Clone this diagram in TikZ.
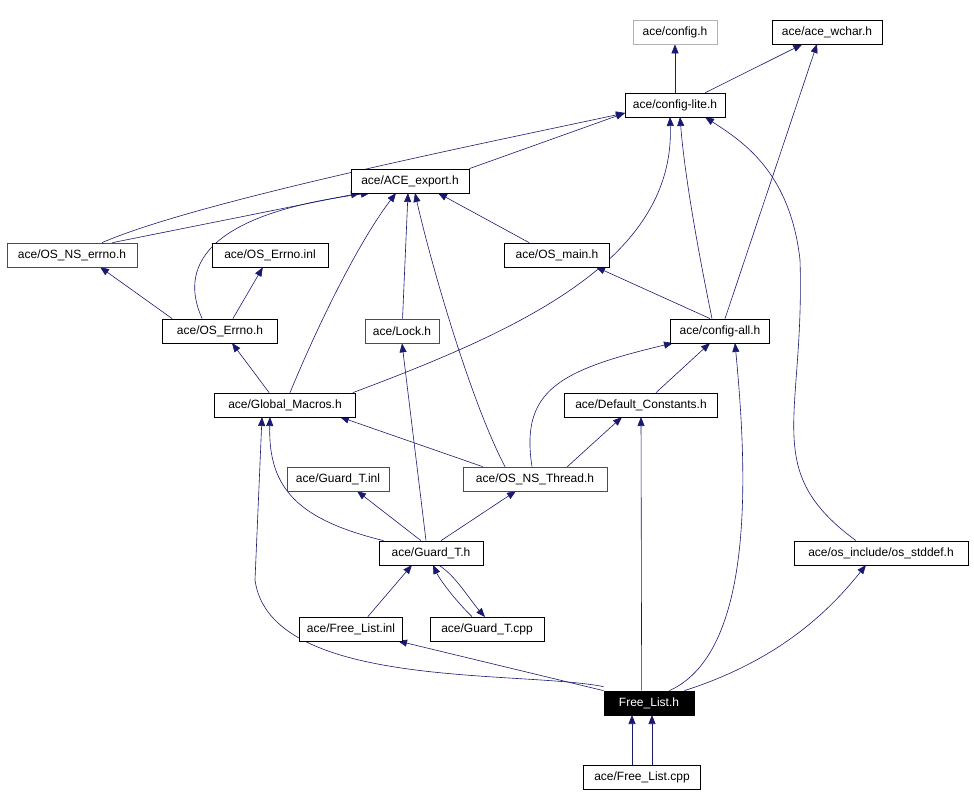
\documentclass[tikz,border=0pt]{standalone}
\usepackage{fontspec}
\setmainfont{Liberation Sans}
\usetikzlibrary{arrows.meta}
\definecolor{edge}{HTML}{191970}
\pgfdeclarelayer{bg}
\pgfsetlayers{bg,main}
\begin{document}
\begin{tikzpicture}[x=1pt,y=-1pt,
  box/.style={draw=black,fill=white,minimum height=24pt,inner xsep=2pt,inner ysep=0pt,font=\fontsize{12pt}{13pt}\selectfont,line width=0.7pt},
  redbox/.style={box,draw=red},
  greybox/.style={box,draw=gray!60},
  e/.style={draw=edge,line width=0.6pt,-{Triangle[length=9pt,width=7pt,fill=edge]}}]
\useasboundingbox (0,0) rectangle (974,808);
\node[greybox,minimum width=84pt] (cfg) at (675,32) {ace/config.h};
\node[box,minimum width=110pt] (wch) at (827,32) {ace/ace\_wchar.h};
\node[box,minimum width=100pt] (cl) at (675,105) {ace/config-lite.h};
\node[box,minimum width=118pt] (exp) at (410,181) {ace/ACE\_export.h};
\node[redbox,minimum width=130pt] (nse) at (72,255) {ace/OS\_NS\_errno.h};
\node[box,minimum width=116pt] (einl) at (270,255) {ace/OS\_Errno.inl};
\node[box,minimum width=105pt] (main) at (557,255) {ace/OS\_main.h};
\node[box,minimum width=115pt] (err) at (220,331) {ace/OS\_Errno.h};
\node[redbox,minimum width=74pt] (lock) at (402,331) {ace/Lock.h};
\node[box,minimum width=99pt] (ca) at (720,331) {ace/config-all.h};
\node[box,minimum width=141pt] (gm) at (285,405) {ace/Global\_Macros.h};
\node[box,minimum width=153pt] (dc) at (641,405) {ace/Default\_Constants.h};
\node[redbox,minimum width=102pt] (ginl) at (338,479) {ace/Guard\_T.inl};
\node[redbox,minimum width=144pt] (nst) at (535,479) {ace/OS\_NS\_Thread.h};
\node[box,minimum width=174pt] (sd) at (881,553) {ace/os\_include/os\_stddef.h};
\node[box,minimum width=104pt] (gt) at (431,553) {ace/Guard\_T.h};
\node[box,minimum width=103pt] (finl) at (351,629) {ace/Free\_List.inl};
\node[box,minimum width=114pt] (gcpp) at (487,629) {ace/Guard\_T.cpp};
\node[box,fill=black,text=white,minimum width=90pt] (fl) at (649,703) {Free\_List.h};
\node[box,minimum width=117pt] (fcpp) at (642,777) {ace/Free\_List.cpp};

\begin{pgfonlayer}{bg}
\draw[e] (cl) -- (cfg);
\draw[e] (cl.north east) ++(-20,0) -- (wch);
\draw[e] (exp.north east) -- (625,113);
\draw[e] (nse.north) ++(30,0) .. controls (200,200) and (500,140) .. (625,113);
\draw[e] (nse.north east) ++(-25,0) -- (360,193);
\draw[e] (err.north west) ++(10,0) -- (100,267);
\draw[e] (err.north west) ++(40,0) .. controls (180,270) and (200,215) .. (370,193);
\draw[e] (err.north east) ++(-45,0) -- (einl);
\draw[e] (main.north west) ++(25,0) -- (438,193);
\draw[e] (ca.north west) ++(40,0) -- (596,267);
\draw[e] (ca.north) ++(-8,0) .. controls (700,260) and (685,180) .. (680,117);
\draw[e] (ca.north) ++(5,0) -- (817,44);
\draw[e] (lock) -- (408,193);
\draw[e] (gm.north) ++(5,0) .. controls (320,320) and (360,240) .. (396,193);
\draw[e] (gm.north west) ++(55,0) -- (232,343);
\draw[e] (gm.north east) ++(-3,0) .. controls (520,330) and (675,260) .. (670,117);
\draw[e] (dc.north) ++(15,0) -- (710,343);
\draw[e] (nst.north) ++(-30,0) .. controls (470,400) and (430,260) .. (415,193);
\draw[e] (nst.north west) ++(20,0) -- (340,417);
\draw[e] (nst.north east) ++(-40,0) -- (622,417);
\draw[e] (nst.north) ++(-3,0) .. controls (520,390) and (560,370) .. (673,343);
\draw[e] (gt.north) ++(-10,0) -- (357,491);
\draw[e] (gt.north) ++(10,0) -- (516,491);
\draw[e] (gt.north) ++(-5,0) -- (lock.south);
\draw[e] (gt.north west) ++(5,0) .. controls (300,520) and (268,490) .. (270,417);
\draw[e] (gt.south) ++(8,0) .. controls (455,575) and (470,600) .. (485,617);
\draw[e] (gcpp.north) ++(-15,0) .. controls (455,600) and (440,580) .. (433,565);
\draw[e] (finl.north east) ++(-35,0) -- (412,565);
\draw[e] (fl.north west) -- (398,641);
\draw[e] (fl.north west) ++(0,-4) .. controls (520,670) and (270,690) .. (255,580) -- (262,417);
\draw[e] (fl.north west) ++(38,0) -- (641,417);
\draw[e] (fl.north east) ++(-25,0) .. controls (760,650) and (745,450) .. (735,343);
\draw[e] (fl.north east) ++(-10,0) .. controls (780,660) and (830,610) .. (866,565);
\draw[e] (sd.north) ++(-25,0) .. controls (760,470) and (805,420) .. (800,260) .. controls (790,170) and (740,140) .. (705,117);
\draw[e] (fcpp.north) ++(10,0) -- (652,715);
\draw[e] (fcpp.north) ++(-10,0) -- (632,715);
\end{pgfonlayer}
\end{tikzpicture}
\end{document}
